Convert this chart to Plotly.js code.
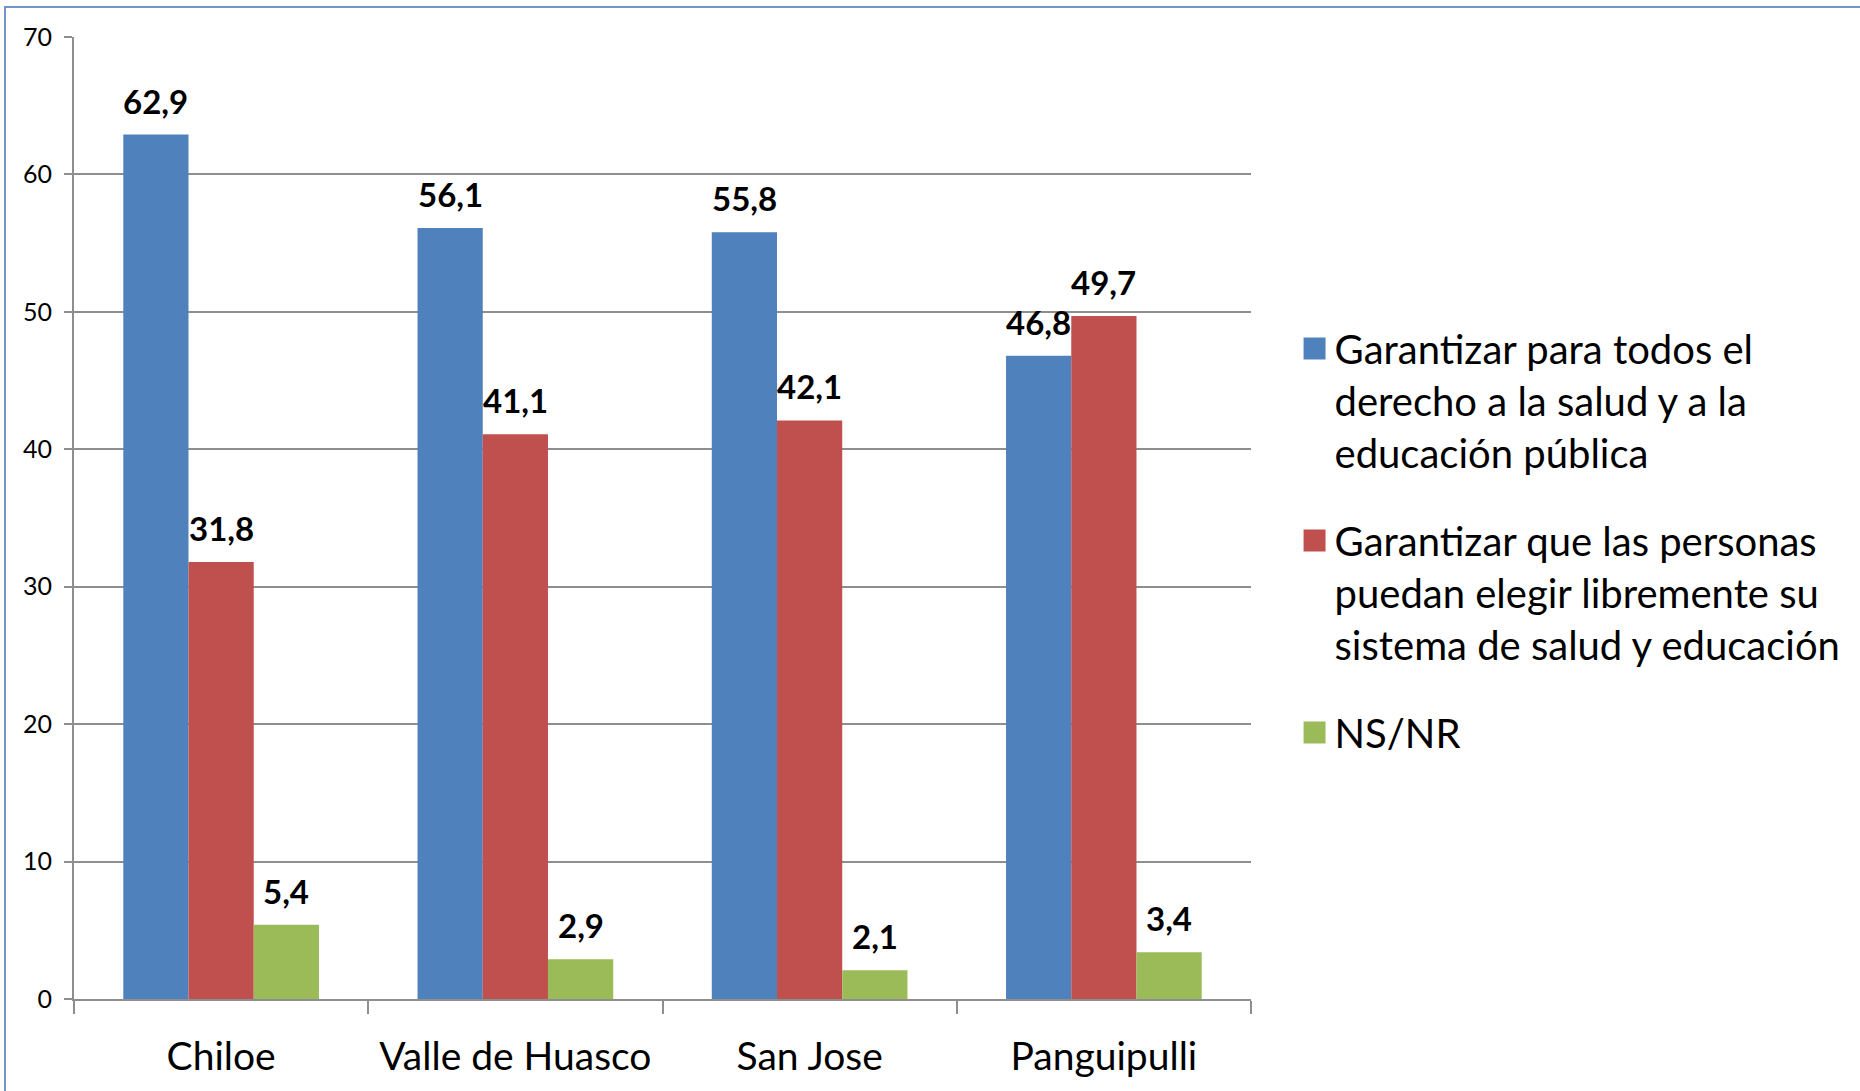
<!DOCTYPE html>
<html>
<head>
<meta charset="utf-8">
<script src="https://cdn.plot.ly/plotly-3.0.1.min.js"></script>
<style>
  html, body { margin: 0; padding: 0; background: #ffffff; overflow: hidden; }
  #chart { position: absolute; left: 0; top: 0; width: 1860px; height: 1091px; }
  #frame { position: absolute; left: 4px; top: 6px; width: 3000px; height: 3000px;
           border-left: 2px solid #7396c9; border-top: 2px solid #7396c9; pointer-events: none; }
</style>
</head>
<body>
<div id="chart"></div>
<div id="frame"></div>
<script>
// ---- data ----
const categories = ["Chiloe", "Valle de Huasco", "San Jose", "Panguipulli"];
const seriesNames = [
  "Garantizar para todos el<br>derecho a la salud y a la<br>educación pública",
  "Garantizar que las personas<br>puedan elegir libremente su<br>sistema de salud y educación",
  "NS/NR"
];
const valuesPublica = [62.9, 56.1, 55.8, 46.8];
const valuesElegir  = [31.8, 41.1, 42.1, 49.7];
const valuesNSNR    = [5.4, 2.9, 2.1, 3.4];
const yTickValues = [0, 10, 20, 30, 40, 50, 60, 70];

const seriesValues = [valuesPublica, valuesElegir, valuesNSNR];
const seriesColors = ["#4F81BD", "#C0504D", "#9BBB59"];

const FONT = "Lato, 'Open Sans', sans-serif";
const bargap = 0.335;
const gridColor = "#8e8e8e";

const traces = seriesValues.map((vals, i) => ({
  type: "bar",
  name: seriesNames[i],
  legendgroup: "g" + i,
  x: categories,
  y: vals,
  marker: { color: seriesColors[i], line: { width: 0 } },
  hoverinfo: "x+y"
}));

// data labels placed above each bar of the group
const nS = seriesValues.length;
const w = (1 - bargap) / nS;
const annotations = [];
seriesValues.forEach((vals, s) => {
  vals.forEach((v, c) => {
    annotations.push({
      x: c + (s - (nS - 1) / 2) * w,
      y: v,
      xref: "x", yref: "y",
      text: v.toFixed(1).replace(".", ","),
      showarrow: false,
      yanchor: "bottom",
      xanchor: "center",
      yshift: 12,
      font: { family: FONT, size: 33, color: "#000000", weight: 700 }
    });
  });
});

const layout = {
  width: 1860,
  height: 1091,
  margin: { l: 74, r: 609, t: 37, b: 92, pad: 0 },
  paper_bgcolor: "rgba(0,0,0,0)",
  plot_bgcolor: "#ffffff",
  barmode: "group",
  bargap: bargap,
  bargroupgap: 0,
  showlegend: true,
  legend: {
    x: 1.037, xanchor: "left", xref: "paper",
    y: 0.71, yanchor: "top", yref: "paper",
    valign: "top",
    tracegroupgap: 33,
    traceorder: "grouped",
    font: { family: FONT, size: 40, color: "#000000" },
    bgcolor: "rgba(0,0,0,0)",
    borderwidth: 0
  },
  xaxis: {
    type: "category",
    showline: true, linecolor: gridColor, linewidth: 2,
    ticks: "outside", tickson: "boundaries", ticklen: 13, tickwidth: 2, tickcolor: gridColor,
    showgrid: false, zeroline: false,
    ticklabelstandoff: 22,
    tickfont: { family: FONT, size: 39, color: "#000000" }
  },
  yaxis: {
    range: [0, 70],
    tickvals: yTickValues,
    ticktext: yTickValues.map(String),
    showgrid: true, gridcolor: gridColor, gridwidth: 2,
    showline: true, linecolor: gridColor, linewidth: 2,
    ticks: "outside", ticklen: 8, tickwidth: 2, tickcolor: gridColor,
    zeroline: false,
    ticklabelstandoff: 7,
    tickfont: { family: FONT, size: 25, color: "#000000" }
  },
  annotations: annotations
};

Plotly.newPlot("chart", traces, layout, { displayModeBar: false, staticPlot: true }).then(() => {
  document.querySelectorAll(".legendpoints path").forEach(p => {
    const t = p.getAttribute("transform") || "";
    p.setAttribute("transform", t + " scale(1.83)");
  });
});
</script>
</body>
</html>
